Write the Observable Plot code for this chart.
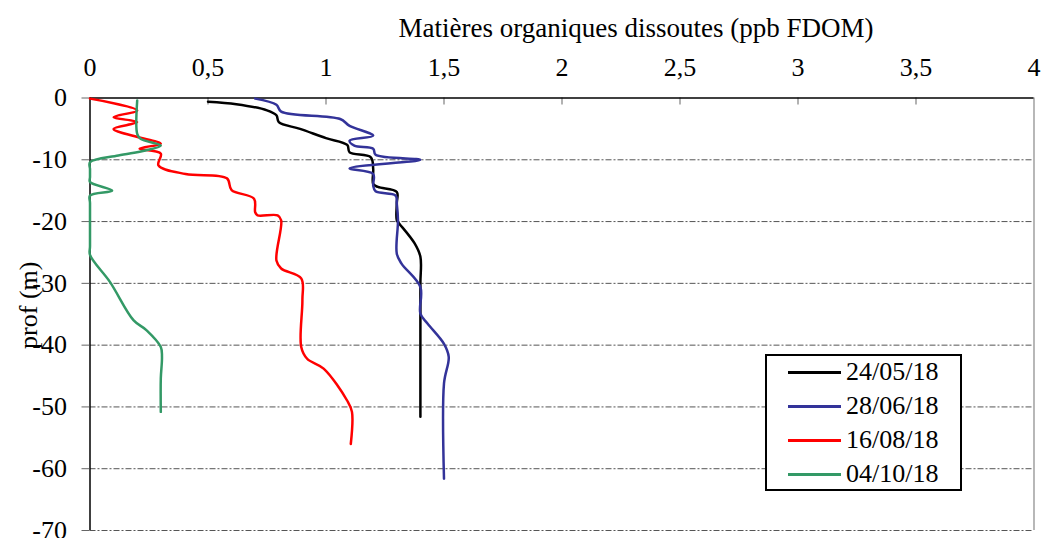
<!DOCTYPE html>
<html><head><meta charset="utf-8">
<script src="https://cdn.jsdelivr.net/npm/d3@7"></script>
<script src="https://cdn.jsdelivr.net/npm/@observablehq/plot@0.6"></script>
<style>
body{margin:0;background:#fff}
#wrap{position:relative;width:1042px;height:538px;font-family:"Liberation Serif","Times New Roman",serif}
#legend{position:absolute;left:765px;top:354px;width:193px;height:133px;border:2px solid #000;background:#fff}
.row{position:absolute;left:21px;height:30px;display:flex;align-items:center;font-size:26px;color:#000;white-space:nowrap}
.row .sw{width:53px;height:3px;margin-right:5px}
</style></head><body><div id="wrap"></div>
<script>
// ---- data ----
const seriesNames = ["24/05/18", "28/06/18", "16/08/18", "04/10/18"];
const seriesColors = ["#000000", "#333399", "#ff0000", "#339966"];
const xTicks = [0, 0.5, 1, 1.5, 2, 2.5, 3, 3.5, 4];
const yTicks = [0, -10, -20, -30, -40, -50, -60, -70];
const xTitle = "Matières organiques dissoutes (ppb FDOM)";
const yTitle = "prof (m)";

const fdom_240518  = [0.50, 0.62, 0.75, 0.79, 0.80, 0.89, 1.00, 1.09, 1.10, 1.19, 1.20, 1.20, 1.22, 1.30, 1.30, 1.30, 1.31, 1.375, 1.40, 1.40, 1.40, 1.40];
const depth_240518 = [-0.6, -1.0, -2.0, -2.8, -3.9, -5.0, -6.5, -7.6, -8.8, -9.6, -11.5, -13.9, -14.4, -15.2, -17.0, -19.8, -20.3, -23.5, -25.7, -30, -40, -51.6];

const fdom_280618  = [0.70, 0.79, 0.81, 1.06, 1.10, 1.20, 1.10, 1.12, 1.20, 1.21, 1.40, 1.10, 1.20, 1.20, 1.21, 1.295, 1.30, 1.305, 1.30, 1.32, 1.40, 1.40, 1.43, 1.50, 1.52, 1.50, 1.50];
const depth_280618 = [-0.1, -1.1, -2.2, -3.4, -4.5, -6.1, -6.9, -7.7, -8.2, -9.2, -10.0, -11.4, -12.3, -14.2, -15.1, -15.8, -17.1, -19.8, -25.2, -26.8, -30.6, -34.9, -36.5, -39.8, -41.9, -46.2, -61.6];

const fdom_160818  = [0.00, 0.20, 0.10, 0.20, 0.10, 0.19, 0.30, 0.21, 0.30, 0.29, 0.405, 0.58, 0.60, 0.695, 0.70, 0.71, 0.795, 0.81, 0.79, 0.81, 0.895, 0.90, 0.895, 0.92, 0.99, 1.09, 1.11, 1.105];
const depth_160818 = [-0.1, -2.0, -3.1, -3.9, -5.0, -6.2, -7.4, -8.2, -9.0, -10.9, -12.3, -13.0, -14.9, -16.3, -18.5, -19.0, -19.0, -19.8, -26.3, -27.6, -29.2, -32.7, -40.3, -42.2, -43.8, -49.0, -50.8, -56.0];

const fdom_041018  = [0.20, 0.20, 0.214, 0.30, 0.235, 0.12, 0.00, 0.00, 0.00, 0.00, 0.094, 0.00, 0.00, 0.00, 0.00, 0.085, 0.185, 0.24, 0.30, 0.305, 0.30, 0.30];
const depth_041018 = [-0.4, -5.8, -6.6, -7.7, -8.5, -9.3, -10.4, -11.5, -12.8, -13.6, -15.0, -15.8, -17.0, -24.0, -25.4, -29.8, -36.0, -37.6, -40.3, -41.9, -45.4, -50.8];

// ---- build table ----
const seriesValues = [fdom_240518, fdom_280618, fdom_160818, fdom_041018];
const seriesDepths = [depth_240518, depth_280618, depth_160818, depth_041018];
const rows = [];
seriesNames.forEach((name, k) => {
  seriesValues[k].forEach((v, i) => rows.push({serie: name, fdom: v, depth: seriesDepths[k][i]}));
});

const W = 1042, H = 538, mL = 89.5, mR = 8.5, mT = 97.5, mB = 8;
const plotH = H - mT - mB;
const fmtX = d => String(d).replace(".", ",");

const chart = Plot.plot({
  width: W, height: H,
  marginLeft: mL, marginRight: mR, marginTop: mT, marginBottom: mB,
  style: {fontFamily: "'Liberation Serif', 'Times New Roman', serif", fontSize: "26px", background: "#fff", color: "#000", overflow: "visible"},
  x: {domain: [0, 4]},
  y: {domain: [-70, 0]},
  color: {domain: seriesNames, range: seriesColors},
  marks: [
    Plot.gridY(yTicks.filter(d => d < 0), {stroke: "#555", strokeOpacity: 1, strokeWidth: 1, strokeDasharray: "6,2,2,2"}),
    Plot.ruleX(xTicks.filter(d => d > 0 && d < 4), {stroke: "#999", strokeWidth: 1.5, insetBottom: plotH - 7}),
    Plot.ruleX([4], {stroke: "#888", strokeWidth: 1.2}),
    Plot.ruleX([0], {stroke: "#000", strokeWidth: 1.5}),
    Plot.ruleY([0], {stroke: "#000", strokeWidth: 1.5}),
    Plot.axisX({anchor: "top", ticks: xTicks, tickSize: 0, tickPadding: 22.5, tickFormat: fmtX, label: null, fontSize: 26}),
    Plot.axisY({anchor: "left", ticks: yTicks, tickSize: 8, tickPadding: 15, tickFormat: d => String(d), label: null, stroke: "#666", fontSize: 26}),
    Plot.text([xTitle], {text: d => d, frameAnchor: "top", textAnchor: "middle", dx: 74, dy: -80, fontSize: 27, fill: "#000"}),
    Plot.text([yTitle], {text: d => d, frameAnchor: "left", textAnchor: "middle", rotate: -90, dx: -61, dy: -9, fontSize: 26, fill: "#000"}),
    Plot.line(rows, {x: "fdom", y: "depth", z: "serie", stroke: "serie", strokeWidth: 2.5, curve: "catmull-rom"})
  ]
});

const wrap = document.getElementById("wrap");
wrap.appendChild(chart);

const legend = document.createElement("div");
legend.id = "legend";
seriesNames.forEach((name, k) => {
  const row = document.createElement("div");
  row.className = "row";
  row.style.top = (1 + k * 34) + "px";
  const sw = document.createElement("span");
  sw.className = "sw";
  sw.style.background = seriesColors[k];
  const tx = document.createElement("span");
  tx.textContent = name;
  row.appendChild(sw); row.appendChild(tx);
  legend.appendChild(row);
});
wrap.appendChild(legend);
</script></body></html>
